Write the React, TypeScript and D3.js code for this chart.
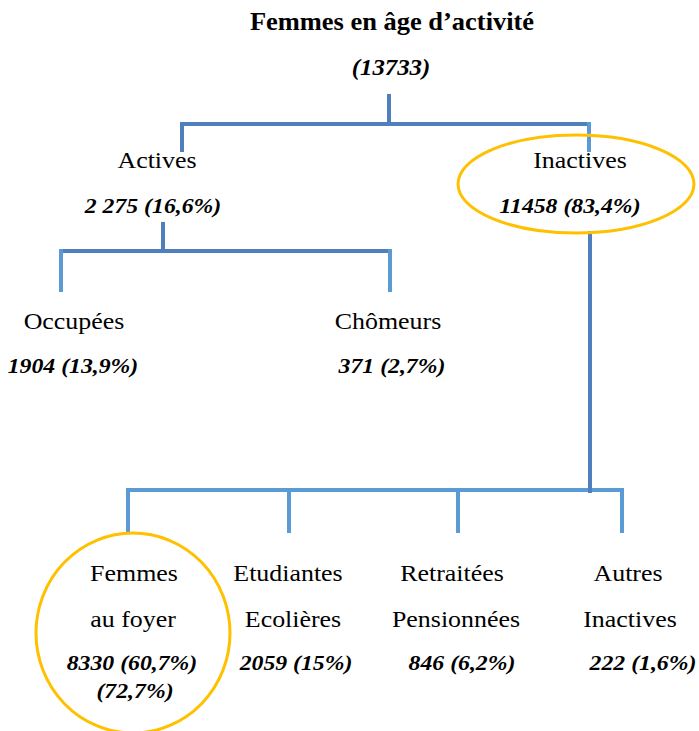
import React from "react";
import * as d3 from "d3";

// ---- data ----
const rootLabel = "Femmes en âge d\u2019activité";
const rootValue = "(13733)";
const level1Labels = ["Actives", "Inactives"];
const level1Values = ["2 275 (16,6%)", "11458 (83,4%)"];
const activeLabels = ["Occupées", "Chômeurs"];
const activeValues = ["1904 (13,9%)", "371 (2,7%)"];
const inactiveLabels1 = ["Femmes", "Etudiantes", "Retraitées", "Autres"];
const inactiveLabels2 = ["au foyer", "Ecolières", "Pensionnées", "Inactives"];
const inactiveValues = ["8330 (60,7%)", "2059 (15%)", "846 (6,2%)", "222 (1,6%)"];
const inactiveExtra = ["(72,7%)", "", "", ""];

// ---- layout ----
const W = 699, H = 731;
const DARK = "#4f7fbd";
const LIGHT = "#5b9bd5";
const GOLD = "#ffc000";
const FONT = "Liberation Serif";
const SX = 1.08;

const x1 = d3.scaleOrdinal<string, number>().domain(level1Labels).range([157, 580]);
const x1v = d3.scaleOrdinal<string, number>().domain(level1Values).range([153, 570]);
const xA = d3.scaleOrdinal<string, number>().domain(activeLabels).range([74, 388]);
const xAv = d3.scaleOrdinal<string, number>().domain(activeValues).range([73, 392]);
const xI1 = [134, 288, 452, 628];
const xI2 = [133, 293, 456, 630];
const xIv = [132, 296, 462, 643];
const dropsI = [128, 289, 458, 622];

function T({ s, x, y, size, bold, italic }: { s: string; x: number; y: number; size: number; bold?: boolean; italic?: boolean }) {
  return (
    <text
      transform={`translate(${x},${y}) scale(${SX},1)`}
      textAnchor="middle"
      fontFamily={FONT}
      fontSize={size}
      fontWeight={bold ? "bold" : "normal"}
      fontStyle={italic ? "italic" : "normal"}
      fill="#000"
    >
      {s}
    </text>
  );
}

function L({ a, b, c, d, col }: { a: number; b: number; c: number; d: number; col: string }) {
  return <line x1={a} y1={b} x2={c} y2={d} stroke={col} strokeWidth={4} />;
}

export default function App() {
  return (
    <svg width={W} height={H} style={{ position: "absolute", left: 0, top: 0, background: "#fff" }}>
      <L a={389} b={94} c={389} d={125} col={DARK} />
      <L a={180} b={124} c={591} d={124} col={DARK} />
      <L a={182} b={122} c={182} d={152} col={DARK} />
      <L a={589} b={122} c={589} d={152} col={LIGHT} />

      <L a={163} b={222} c={163} d={253} col={DARK} />
      <L a={59} b={251} c={392} d={251} col={DARK} />
      <L a={61} b={249} c={61} d={292} col={LIGHT} />
      <L a={390} b={249} c={390} d={292} col={LIGHT} />

      <L a={126} b={490} c={624} d={490} col={LIGHT} />
      <L a={590} b={231} c={590} d={493} col={DARK} />
      {dropsI.map((x, i) => <L key={i} a={x} b={488} c={x} d={533} col={LIGHT} />)}

      <ellipse cx={576} cy={184} rx={118} ry={49} fill="none" stroke={GOLD} strokeWidth={3} />
      <ellipse cx={133} cy={633} rx={97} ry={100} fill="none" stroke={GOLD} strokeWidth={3} />

      <T s={rootLabel} x={392} y={30} size={24.5} bold />
      <T s={rootValue} x={391} y={75} size={23} bold italic />

      {level1Labels.map((l) => <T key={l} s={l} x={x1(l)} y={168} size={24} />)}
      {level1Values.map((v) => <T key={v} s={v} x={x1v(v)} y={213} size={22} bold italic />)}

      {activeLabels.map((l) => <T key={l} s={l} x={xA(l)} y={329} size={24} />)}
      {activeValues.map((v) => <T key={v} s={v} x={xAv(v)} y={373} size={22} bold italic />)}

      {inactiveLabels1.map((l, i) => <T key={l} s={l} x={xI1[i]} y={581} size={24} />)}
      {inactiveLabels2.map((l, i) => <T key={l} s={l} x={xI2[i]} y={627} size={24} />)}
      {inactiveValues.map((v, i) => <T key={v} s={v} x={xIv[i]} y={670} size={22} bold italic />)}
      {inactiveExtra.map((v, i) => (v ? <T key={"e" + i} s={v} x={135} y={698} size={22} bold italic /> : null))}
    </svg>
  );
}
